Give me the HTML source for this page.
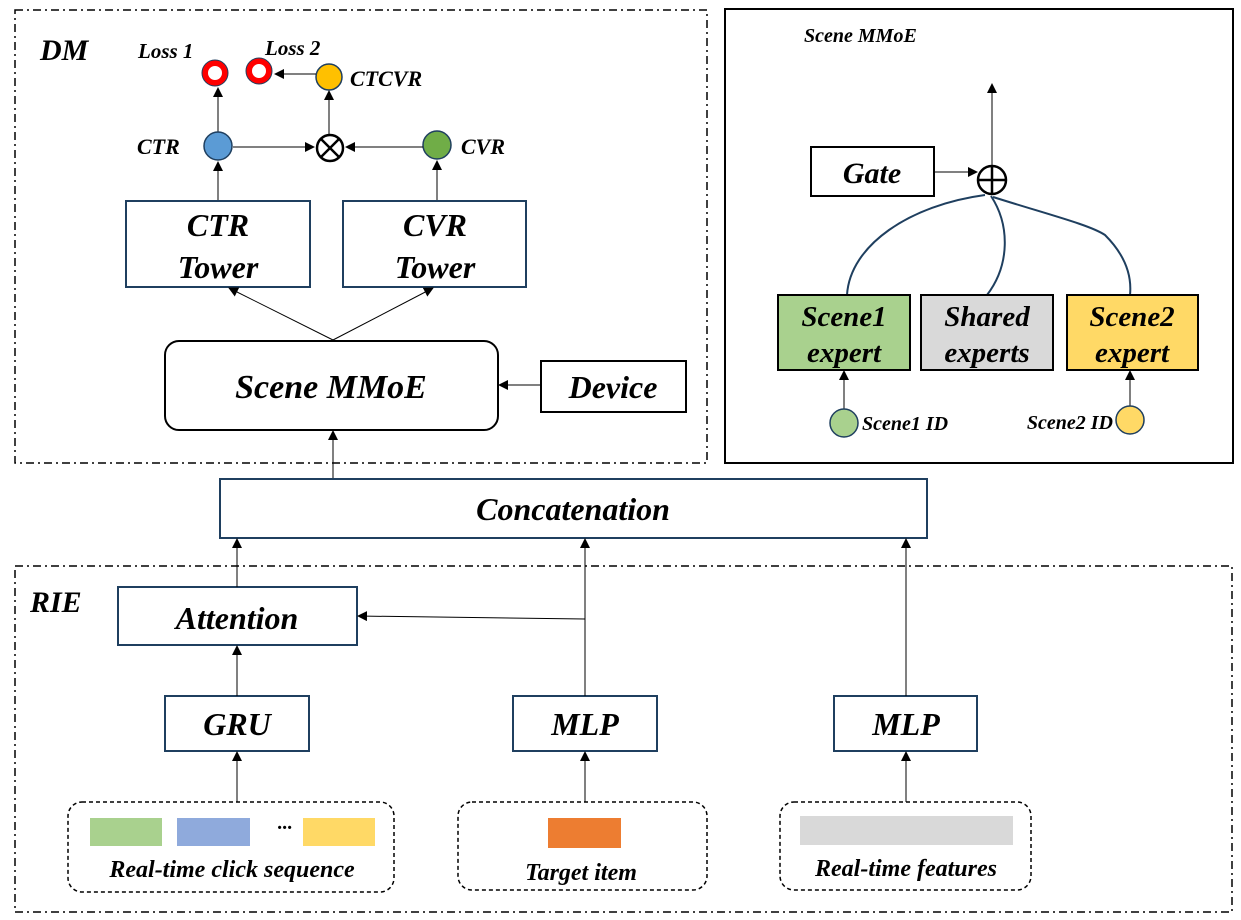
<!DOCTYPE html>
<html><head><meta charset="utf-8"><style>
html,body{margin:0;padding:0;background:#fff;}
svg{display:block;}
text{font-family:"Liberation Serif",serif;font-weight:bold;font-style:italic;fill:#000;}
</style></head><body>
<svg width="1241" height="920" viewBox="0 0 1241 920" xmlns="http://www.w3.org/2000/svg">
<defs>
<marker id="a" markerWidth="10" markerHeight="10" refX="9" refY="5" orient="auto" markerUnits="userSpaceOnUse">
<path d="M0,0 L10,5 L0,10 z" fill="#000"/></marker>
</defs>
<!-- DM box -->
<rect x="15" y="10" width="692" height="453" fill="none" stroke="#000" stroke-width="1.5" stroke-dasharray="8,4,2,4"/>
<text x="40" y="60" font-size="30">DM</text>
<!-- right box -->
<rect x="725" y="9" width="508" height="454" fill="none" stroke="#000" stroke-width="2"/>
<text x="804" y="42" font-size="20">Scene MMoE</text>

<!-- losses -->
<text x="138" y="58" font-size="21">Loss 1</text>
<text x="265" y="55" font-size="21">Loss 2</text>
<circle cx="215" cy="73" r="10" fill="#fff" stroke="#f00" stroke-width="6"/>
<circle cx="215" cy="73" r="13" fill="none" stroke="#1f3f5f" stroke-width="1"/>
<circle cx="259" cy="71" r="10" fill="#fff" stroke="#f00" stroke-width="6"/>
<circle cx="259" cy="71" r="13" fill="none" stroke="#1f3f5f" stroke-width="1"/>
<circle cx="329" cy="77" r="13" fill="#FFC000" stroke="#1f3f5f" stroke-width="1.5"/>
<text x="350" y="86" font-size="22">CTCVR</text>
<line x1="316" y1="74" x2="275" y2="74" stroke="#000" marker-end="url(#a)"/>
<line x1="329" y1="135" x2="329" y2="91" stroke="#000" marker-end="url(#a)"/>
<line x1="218" y1="132" x2="218" y2="88" stroke="#000" marker-end="url(#a)"/>
<!-- middle row -->
<text x="137" y="154" font-size="22">CTR</text>
<circle cx="218" cy="146" r="14" fill="#5B9BD5" stroke="#1f3f5f" stroke-width="1.5"/>
<circle cx="330" cy="148" r="13" fill="#fff" stroke="#000" stroke-width="2.5"/>
<line x1="321" y1="139" x2="339" y2="157" stroke="#000" stroke-width="2.5"/>
<line x1="339" y1="139" x2="321" y2="157" stroke="#000" stroke-width="2.5"/>
<circle cx="437" cy="145" r="14" fill="#70AD47" stroke="#1f3f5f" stroke-width="1.5"/>
<text x="461" y="154" font-size="22">CVR</text>
<line x1="233" y1="147" x2="314" y2="147" stroke="#000" marker-end="url(#a)"/>
<line x1="423" y1="147" x2="346" y2="147" stroke="#000" marker-end="url(#a)"/>
<line x1="218" y1="200" x2="218" y2="162" stroke="#000" marker-end="url(#a)"/>
<line x1="437" y1="200" x2="437" y2="161" stroke="#000" marker-end="url(#a)"/>
<!-- towers -->
<rect x="126" y="201" width="184" height="86" fill="#fff" stroke="#1f3f5f" stroke-width="2"/>
<text x="218" y="236" font-size="32" text-anchor="middle">CTR</text>
<text x="218" y="278" font-size="32" text-anchor="middle">Tower</text>
<rect x="343" y="201" width="183" height="86" fill="#fff" stroke="#1f3f5f" stroke-width="2"/>
<text x="435" y="236" font-size="32" text-anchor="middle">CVR</text>
<text x="435" y="278" font-size="32" text-anchor="middle">Tower</text>
<line x1="333" y1="340" x2="229" y2="288" stroke="#000" marker-end="url(#a)"/>
<line x1="333" y1="340" x2="433" y2="288" stroke="#000" marker-end="url(#a)"/>
<!-- scene mmoe -->
<rect x="165" y="341" width="333" height="89" rx="14" fill="#fff" stroke="#000" stroke-width="2"/>
<text x="331" y="398" font-size="34" text-anchor="middle">Scene MMoE</text>
<rect x="541" y="361" width="145" height="51" fill="#fff" stroke="#000" stroke-width="2"/>
<text x="613" y="398" font-size="32" text-anchor="middle">Device</text>
<line x1="541" y1="385" x2="499" y2="385" stroke="#000" marker-end="url(#a)"/>
<line x1="333" y1="479" x2="333" y2="431" stroke="#000" marker-end="url(#a)"/>
<!-- concatenation -->
<rect x="220" y="479" width="707" height="59" fill="#fff" stroke="#1f3f5f" stroke-width="2"/>
<text x="573" y="520" font-size="32" text-anchor="middle">Concatenation</text>
<!-- RIE -->
<rect x="15" y="566" width="1217" height="346" fill="none" stroke="#000" stroke-width="1.5" stroke-dasharray="8,4,2,4"/>
<text x="30" y="612" font-size="30">RIE</text>
<rect x="118" y="587" width="239" height="58" fill="#fff" stroke="#1f3f5f" stroke-width="2"/>
<text x="237" y="629" font-size="32" text-anchor="middle">Attention</text>
<rect x="165" y="696" width="144" height="55" fill="#fff" stroke="#1f3f5f" stroke-width="2"/>
<text x="237" y="735" font-size="32" text-anchor="middle">GRU</text>
<rect x="513" y="696" width="144" height="55" fill="#fff" stroke="#1f3f5f" stroke-width="2"/>
<text x="585" y="735" font-size="32" text-anchor="middle">MLP</text>
<rect x="834" y="696" width="143" height="55" fill="#fff" stroke="#1f3f5f" stroke-width="2"/>
<text x="906" y="735" font-size="32" text-anchor="middle">MLP</text>
<line x1="237" y1="587" x2="237" y2="539" stroke="#000" marker-end="url(#a)"/>
<line x1="237" y1="696" x2="237" y2="646" stroke="#000" marker-end="url(#a)"/>
<line x1="585" y1="696" x2="585" y2="539" stroke="#000" marker-end="url(#a)"/>
<polyline points="585,619 358,616" fill="none" stroke="#000" marker-end="url(#a)"/>
<line x1="906" y1="696" x2="906" y2="539" stroke="#000" marker-end="url(#a)"/>
<line x1="237" y1="802" x2="237" y2="752" stroke="#000" marker-end="url(#a)"/>
<line x1="585" y1="802" x2="585" y2="752" stroke="#000" marker-end="url(#a)"/>
<line x1="906" y1="802" x2="906" y2="752" stroke="#000" marker-end="url(#a)"/>
<!-- inputs -->
<rect x="68" y="802" width="326" height="90" rx="14" fill="none" stroke="#000" stroke-width="1.5" stroke-dasharray="4,3"/>
<rect x="90" y="818" width="72" height="28" fill="#A9D18E"/>
<rect x="177" y="818" width="73" height="28" fill="#8FAADC"/>
<text x="277" y="834" font-size="20" font-style="normal">···</text>
<rect x="303" y="818" width="72" height="28" fill="#FFD966"/>
<text x="232" y="877" font-size="24" text-anchor="middle">Real-time click sequence</text>
<rect x="458" y="802" width="249" height="88" rx="14" fill="none" stroke="#000" stroke-width="1.5" stroke-dasharray="4,3"/>
<rect x="548" y="818" width="73" height="30" fill="#ED7D31"/>
<text x="581" y="880" font-size="24" text-anchor="middle">Target item</text>
<rect x="780" y="802" width="251" height="88" rx="14" fill="none" stroke="#000" stroke-width="1.5" stroke-dasharray="4,3"/>
<rect x="800" y="816" width="213" height="29" fill="#D9D9D9"/>
<text x="906" y="876" font-size="24" text-anchor="middle">Real-time features</text>

<!-- right panel -->
<rect x="811" y="147" width="123" height="49" fill="#fff" stroke="#000" stroke-width="2"/>
<text x="872" y="183" font-size="30" text-anchor="middle">Gate</text>
<line x1="934" y1="172" x2="977" y2="172" stroke="#000" marker-end="url(#a)"/>
<line x1="992" y1="167" x2="992" y2="84" stroke="#000" marker-end="url(#a)"/>
<circle cx="992" cy="180" r="14" fill="#fff" stroke="#000" stroke-width="2.5"/>
<line x1="978" y1="180" x2="1006" y2="180" stroke="#000" stroke-width="2.5"/>
<line x1="992" y1="166" x2="992" y2="194" stroke="#000" stroke-width="2.5"/>
<path d="M985,195 C910,205 850,245 847,295" fill="none" stroke="#1f3f5f" stroke-width="2"/>
<path d="M991,196 C1010,225 1010,265 987,295" fill="none" stroke="#1f3f5f" stroke-width="2"/>
<path d="M993,197 C1050,215 1090,225 1105,235 C1125,255 1132,275 1130,295" fill="none" stroke="#1f3f5f" stroke-width="2"/>
<rect x="778" y="295" width="132" height="75" fill="#A9D18E" stroke="#000" stroke-width="2"/>
<text x="844" y="326" font-size="29" text-anchor="middle">Scene1</text>
<text x="844" y="362" font-size="29" text-anchor="middle">expert</text>
<rect x="921" y="295" width="132" height="75" fill="#D9D9D9" stroke="#000" stroke-width="2"/>
<text x="987" y="326" font-size="29" text-anchor="middle">Shared</text>
<text x="987" y="362" font-size="29" text-anchor="middle">experts</text>
<rect x="1067" y="295" width="131" height="75" fill="#FFD966" stroke="#000" stroke-width="2"/>
<text x="1132" y="326" font-size="29" text-anchor="middle">Scene2</text>
<text x="1132" y="362" font-size="29" text-anchor="middle">expert</text>
<line x1="844" y1="409" x2="844" y2="371" stroke="#000" marker-end="url(#a)"/>
<line x1="1130" y1="406" x2="1130" y2="371" stroke="#000" marker-end="url(#a)"/>
<circle cx="844" cy="423" r="14" fill="#A9D18E" stroke="#1f3f5f" stroke-width="1.5"/>
<text x="862" y="430" font-size="20">Scene1 ID</text>
<circle cx="1130" cy="420" r="14" fill="#FFD966" stroke="#1f3f5f" stroke-width="1.5"/>
<text x="1113" y="429" font-size="20" text-anchor="end">Scene2 ID</text>
</svg>
</body></html>
